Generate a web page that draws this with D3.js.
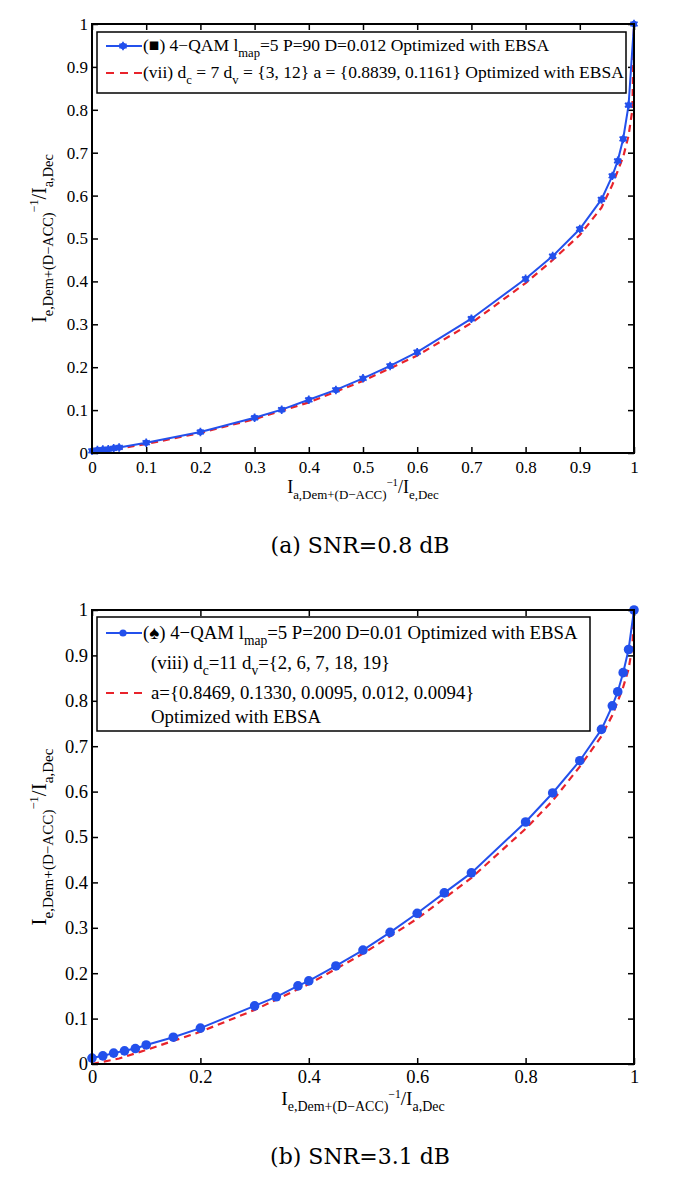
<!DOCTYPE html>
<html><head><meta charset="utf-8">
<script src="https://cdn.jsdelivr.net/npm/d3@7"></script>
<style>
body{margin:0;background:#fff;}
text{font-family:"Liberation Serif","Times New Roman",serif;fill:#000;}
</style></head>
<body><svg id="c" width="685" height="1184"></svg>
<script>
// ---------- data ----------
const xBlueA = [0,0.01,0.02,0.03,0.04,0.05,0.1,0.2,0.3,0.35,0.4,0.45,0.5,0.55,0.6,0.7,0.8,0.85,0.9,0.94,0.96,0.97,0.98,0.99,1.0];
const yBlueA = [0.005,0.007,0.008,0.009,0.011,0.013,0.024,0.049,0.082,0.101,0.124,0.147,0.174,0.203,0.235,0.313,0.406,0.459,0.522,0.591,0.646,0.681,0.732,0.811,1.0];
const xRedA  = [0,0.05,0.1,0.2,0.3,0.4,0.5,0.6,0.7,0.8,0.85,0.9,0.94,0.96,0.98,0.99,0.997,1.0];
const yRedA  = [0,0.010,0.021,0.047,0.079,0.118,0.168,0.227,0.303,0.396,0.450,0.508,0.572,0.625,0.690,0.740,0.800,1.0];

const xBlueB = [0,0.02,0.04,0.06,0.08,0.1,0.15,0.2,0.3,0.34,0.38,0.4,0.45,0.5,0.55,0.6,0.65,0.7,0.8,0.85,0.9,0.94,0.96,0.97,0.98,0.99,1.0];
const yBlueB = [0.013,0.018,0.024,0.029,0.034,0.042,0.059,0.079,0.128,0.148,0.172,0.183,0.216,0.251,0.290,0.332,0.377,0.421,0.533,0.597,0.668,0.737,0.789,0.820,0.862,0.913,1.0];
const xRedB  = [0,0.05,0.1,0.2,0.3,0.4,0.5,0.6,0.7,0.8,0.85,0.9,0.94,0.96,0.98,0.99,0.997,1.0];
const yRedB  = [0,0.012,0.031,0.071,0.119,0.176,0.243,0.320,0.410,0.518,0.580,0.655,0.722,0.768,0.830,0.870,0.920,1.0];

const yTicks   = [0,0.1,0.2,0.3,0.4,0.5,0.6,0.7,0.8,0.9,1];
const yTickLbl = ["0","0.1","0.2","0.3","0.4","0.5","0.6","0.7","0.8","0.9","1"];
const xTicksA   = [0,0.1,0.2,0.3,0.4,0.5,0.6,0.7,0.8,0.9,1];
const xTickLblA = ["0","0.1","0.2","0.3","0.4","0.5","0.6","0.7","0.8","0.9","1"];
const xTicksB   = [0,0.2,0.4,0.6,0.8,1];
const xTickLblB = ["0","0.2","0.4","0.6","0.8","1"];

const BLUE = "#2350ec", RED = "#e8232b";
const svg = d3.select("#c");
svg.append("rect").attr("width",685).attr("height",1184).attr("fill","#fff");

function richText(g, x, y, parts, anchor, size){
  const t = g.append("text").attr("x",x).attr("y",y).attr("text-anchor",anchor||"start")
    .style("font-size",size+"px");
  let base = 0;
  parts.forEach(p=>{
    const [str, kind] = p;
    let target = 0, fs = size;
    if(kind==="sub"){ target = size*0.33; fs = size*0.72; }
    else if(kind==="sup"){ target = -size*0.38; fs = size*0.6; }
    t.append("tspan").attr("dy", target-base).style("font-size",fs+"px").text(str);
    base = target;
  });
  return t;
}

function marker(sel, star, r){
  if(star){
    sel.append("circle").attr("r",3.2).attr("fill",BLUE);
    sel.append("path").attr("d",d3.symbol(d3.symbolAsterisk,50)()).attr("stroke",BLUE).attr("stroke-width",1.7).attr("fill","none");
  } else {
    sel.append("circle").attr("r",r).attr("fill",BLUE);
  }
}

function panel(o){
  const g = svg.append("g");
  const x = d3.scaleLinear().domain([0,1]).range([o.left,o.right]);
  const y = d3.scaleLinear().domain([0,1]).range([o.bottom,o.top]);
  const tsz = -6;
  const fmtX = (d,i)=>o.xLbl[i], fmtY=(d,i)=>yTickLbl[i];
  const ax = [
    g.append("g").attr("transform",`translate(0,${o.bottom})`).call(d3.axisBottom(x).tickValues(o.xTicks).tickFormat(fmtX).tickSizeInner(tsz).tickSizeOuter(0).tickPadding(o.xPad)),
    g.append("g").attr("transform",`translate(${o.left},0)`).call(d3.axisLeft(y).tickValues(yTicks).tickFormat(fmtY).tickSizeInner(tsz).tickSizeOuter(0).tickPadding(4)),
    g.append("g").attr("transform",`translate(0,${o.top})`).call(d3.axisTop(x).tickValues(o.xTicks).tickFormat("").tickSizeInner(tsz).tickSizeOuter(0)),
    g.append("g").attr("transform",`translate(${o.right},0)`).call(d3.axisRight(y).tickValues(yTicks).tickFormat("").tickSizeInner(tsz).tickSizeOuter(0))
  ];
  ax.forEach(a=>{
    a.select(".domain").remove();
    a.selectAll(".tick line").attr("stroke","#000").attr("stroke-width",1.5);
    a.selectAll(".tick text").style("font-size",o.tickFs+"px").style("font-family","Liberation Serif");
  });
  // curves
  const lineGen = d3.line().x(d=>x(d[0])).y(d=>y(d[1]));
  const red = o.xr.map((v,i)=>[v,o.yr[i]]);
  const blue = o.xb.map((v,i)=>[v,o.yb[i]]);
  g.append("path").attr("d",lineGen(red)).attr("fill","none").attr("stroke",RED).attr("stroke-width",2.2).attr("stroke-dasharray","7,5");
  g.append("path").attr("d",lineGen(blue)).attr("fill","none").attr("stroke",BLUE).attr("stroke-width",2);
  g.selectAll(".mk").data(blue).join("g").attr("class","mk")
    .attr("transform",d=>`translate(${x(d[0])},${y(d[1])})`).call(s=>marker(s,o.star,4.8));
  // box
  g.append("rect").attr("x",o.left).attr("y",o.top).attr("width",o.right-o.left).attr("height",o.bottom-o.top)
    .attr("fill","none").attr("stroke","#000").attr("stroke-width",2);
  // legend
  const L = o.legend;
  g.append("rect").attr("x",L.x).attr("y",L.y).attr("width",L.w).attr("height",L.h)
    .attr("fill","#fff").attr("stroke","#000").attr("stroke-width",1.5);
  L.rows.forEach(r=>{
    const cy = r.cy;
    if(r.sym==="blue"){
      g.append("line").attr("x1",L.x+9).attr("x2",L.x+45).attr("y1",cy).attr("y2",cy).attr("stroke",BLUE).attr("stroke-width",2);
      const m = g.append("g").attr("transform",`translate(${L.x+26},${cy})`);
      marker(m,o.star,3.6);
    } else if(r.sym==="red"){
      g.append("line").attr("x1",L.x+9).attr("x2",L.x+50).attr("y1",cy).attr("y2",cy).attr("stroke",RED).attr("stroke-width",2.2).attr("stroke-dasharray","8,6");
    }
    richText(g, r.tx, cy+0.3*L.fs, r.parts, "start", L.fs);
  });
  // axis labels
  const cx = (o.left+o.right)/2, cyy=(o.top+o.bottom)/2;
  richText(g, cx, o.bottom+o.xlabDy, o.xlab, "middle", o.xlabFs);
  const yl = g.append("g").attr("transform",`translate(${o.left-46},${cyy}) rotate(-90)`);
  richText(yl, 0, 0, o.ylab, "middle", o.ylabFs);
  // caption
  g.append("text").attr("x",360).attr("y",o.capY).attr("text-anchor","middle")
    .style("font-family","DejaVu Serif").style("font-size","22px").text(o.caption);
}

const labAD = [["I"],["a,Dem+(D\u2212ACC)","sub"],["\u22121","sup"],["/I"],["e,Dec","sub"]];
const labED = [["I"],["e,Dem+(D\u2212ACC)","sub"],["\u22121","sup"],["/I"],["a,Dec","sub"]];

panel({left:92,right:634,top:24,bottom:453, xTicks:xTicksA, xLbl:xTickLblA, tickFs:17, xPad:8,
  xb:xBlueA,yb:yBlueA,xr:xRedA,yr:yRedA, star:true,
  xlab:labAD, xlabFs:18, xlabDy:40, ylab:labED, ylabFs:20, caption:"(a) SNR=0.8 dB", capY:553,
  legend:{x:97,y:32,w:529,h:61,fs:17.5,rows:[
    {sym:"blue",cy:46,tx:143,parts:[["(\u25A0) 4\u2212QAM l"],["map","sub"],["=5 P=90 D=0.012 Optimized with EBSA"]]},
    {sym:"red",cy:73,tx:143,parts:[["(vii) d"],["c","sub"],[" = 7 d"],["v","sub"],[" = {3, 12} a = {0.8839, 0.1161} Optimized with EBSA"]]}
  ]}});

panel({left:92,right:634,top:610,bottom:1064, xTicks:xTicksB, xLbl:xTickLblB, tickFs:18.5, xPad:6,
  xb:xBlueB,yb:yBlueB,xr:xRedB,yr:yRedB, star:false,
  xlab:labED, xlabFs:19.4, xlabDy:41, ylab:labED, ylabFs:21, caption:"(b) SNR=3.1 dB", capY:1164,
  legend:{x:97,y:617,w:493,h:114,fs:18.8,rows:[
    {sym:"blue",cy:633,tx:143,parts:[["(\u2660) 4\u2212QAM l"],["map","sub"],["=5 P=200 D=0.01 Optimized with EBSA"]]},
    {sym:"none",cy:663,tx:151,parts:[["(viii) d"],["c","sub"],["=11 d"],["v","sub"],["={2, 6, 7, 18, 19}"]]},
    {sym:"red",cy:693,tx:151,parts:[["a={0.8469, 0.1330, 0.0095, 0.012, 0.0094}"]]},
    {sym:"none",cy:717,tx:151,parts:[["Optimized with EBSA"]]}
  ]}});
</script></body></html>
